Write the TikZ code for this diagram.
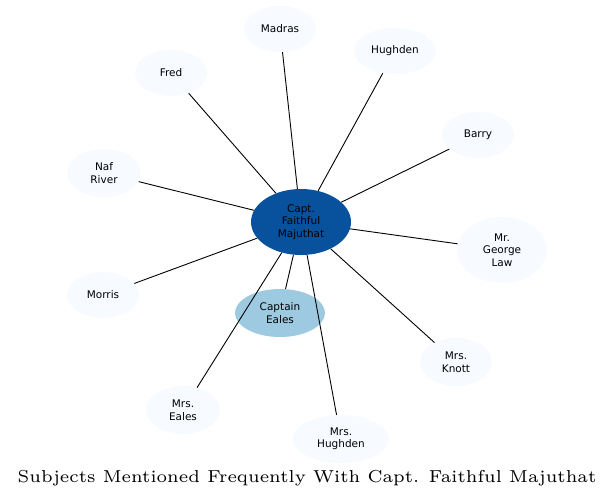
\documentclass[tikz,border=0pt]{standalone}
\usepackage{fontspec}
\newfontfamily\nodefont{DejaVu Sans}
\newfontfamily\titlefont{lmroman6-regular.otf}
\usetikzlibrary{shapes.geometric}
\definecolor{leaf}{HTML}{F7FBFF}
\definecolor{hub}{HTML}{08519C}
\definecolor{mid}{HTML}{9ECAE1}
\tikzset{
  ent/.style={ellipse, fill=leaf, draw=none, inner sep=0pt, align=center, font=\nodefont\fontsize{10.5}{12.5}\selectfont, text=black},
  link/.style={draw=black, line width=0.9pt},
}
\begin{document}
\begin{tikzpicture}[x=1pt,y=-1pt]
\useasboundingbox (0,0) rectangle (615,500);
\node[ent, fill=hub, minimum width=100, minimum height=66] (c) at (301,222) {Capt.\\Faithful\\Majuthat};
\node[ent, fill=mid, minimum width=90, minimum height=48] (ce) at (280,313) {Captain\\Eales};
\node[ent, minimum width=72, minimum height=46] (madras) at (280,29) {Madras};
\node[ent, minimum width=82, minimum height=46] (hughden) at (395,51) {Hughden};
\node[ent, minimum width=72, minimum height=46] (fred) at (171,73) {Fred};
\node[ent, minimum width=72, minimum height=46] (barry) at (478,135) {Barry};
\node[ent, minimum width=74, minimum height=48] (naf) at (104,173) {Naf\\River};
\node[ent, minimum width=90, minimum height=66] (law) at (502,250) {Mr.\\George\\Law};
\node[ent, minimum width=72, minimum height=46] (morris) at (103,295) {Morris};
\node[ent, minimum width=72, minimum height=48] (knott) at (456,362) {Mrs.\\Knott};
\node[ent, minimum width=74, minimum height=48] (meales) at (183,410) {Mrs.\\Eales};
\node[ent, minimum width=96, minimum height=48] (mhughden) at (341,439) {Mrs.\\Hughden};
\foreach \n in {ce,madras,hughden,fred,barry,naf,law,morris,knott,meales,mhughden}
  \draw[link] (c) -- (\n);
\node[inner sep=0pt, font=\titlefont\fontsize{17.3}{20}\selectfont] (title) at (307,478) {Subjects Mentioned Frequently With Capt. Faithful Majuthat};
\end{tikzpicture}
\end{document}
